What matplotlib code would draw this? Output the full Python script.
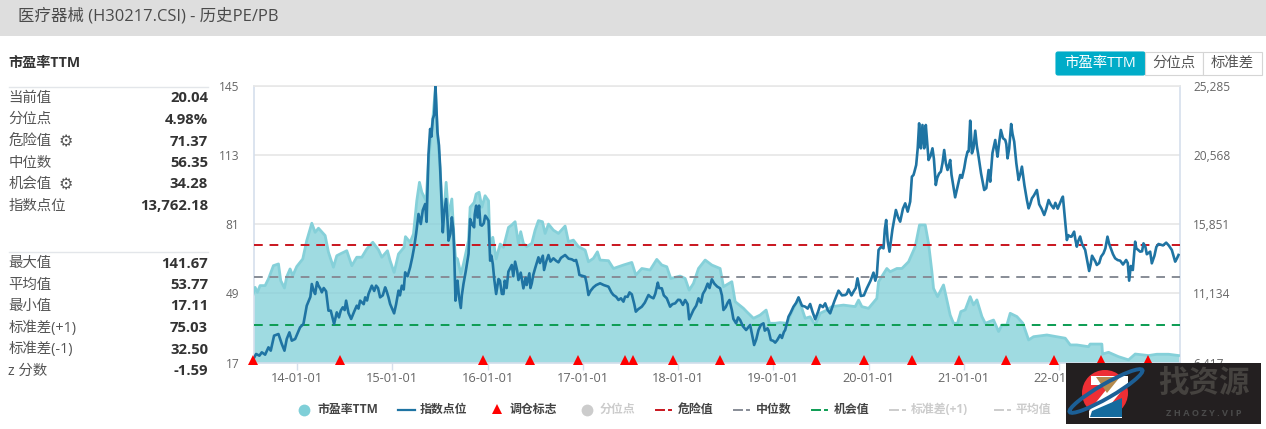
import matplotlib
matplotlib.use("Agg")
import matplotlib.pyplot as plt
from matplotlib.patches import Rectangle, Circle, Polygon, Ellipse, FancyBboxPatch
from matplotlib.transforms import offset_copy

plt.rcParams['font.family'] = ['Open Sans', 'Noto Sans CJK SC', 'DejaVu Sans']

# ---------- data ----------
pe_years = [2013.54,2013.56,2013.584,2013.612,2013.665,2013.70,2013.752,2013.805,2013.829,2013.868,2013.892,2013.927,2013.955,2013.997,
2014.06,2014.102,2014.155,2014.19,2014.225,2014.295,2014.33,2014.382,2014.417,2014.452,2014.522,2014.575,2014.627,2014.68,2014.732,2014.795,2014.855,2014.89,2014.949,2014.977,
2015.019,2015.065,2015.124,2015.138,2015.187,2015.222,2015.257,2015.285,2015.31,2015.355,2015.38,2015.425,2015.453,2015.474,2015.502,2015.52,2015.53,2015.565,2015.59,2015.625,2015.649,2015.663,2015.684,2015.72,2015.747,2015.80,2015.817,2015.859,2015.88,2015.911,2015.94,2015.974,
2016.01,2016.027,2016.055,2016.09,2016.132,2016.167,2016.22,2016.254,2016.289,2016.324,2016.348,2016.376,2016.411,2016.464,2016.499,2016.534,2016.576,2016.604,2016.639,2016.691,2016.744,2016.814,2016.849,2016.901,2016.954,
2017.024,2017.059,2017.111,2017.153,2017.181,2017.269,2017.321,2017.374,2017.426,2017.514,2017.556,2017.619,2017.706,2017.776,2017.829,2017.881,2017.923,
2018.021,2018.074,2018.116,2018.161,2018.214,2018.284,2018.354,2018.441,2018.476,2018.564,2018.599,2018.686,2018.721,2018.791,2018.861,2018.924,2018.959,
2019.019,2019.071,2019.141,2019.194,2019.264,2019.334,2019.386,2019.439,2019.491,2019.561,2019.614,2019.736,2019.859,2019.894,2019.929,2019.999,
2020.086,2020.104,2020.191,2020.226,2020.296,2020.349,2020.419,2020.489,2020.534,2020.594,2020.629,2020.664,2020.681,2020.723,2020.786,2020.821,2020.856,2020.891,2020.933,2020.968,
2021.014,2021.066,2021.101,2021.136,2021.189,2021.224,2021.311,2021.364,2021.399,2021.451,2021.486,2021.556,2021.619,2021.679,2021.731,2021.871,2021.976,
2022.064,2022.116,2022.185,2022.308,2022.325,2022.448,2022.455,2022.518,2022.622,2022.728,2022.798,2022.938,2023.025,2023.148,2023.253]
pe_values = [48.7,51.8,49.5,52.6,52.6,55.7,61.8,62.6,54.9,51.5,56.7,60.3,57.2,61.4,
64.9,73.4,81.4,77.2,79.1,75.7,68.0,61.1,66.4,67.2,68.7,61.8,65.7,65.7,69.5,72.6,69.1,65.7,68.7,64.1,
58.7,67.2,70.3,75.2,72.6,76.4,91.8,100.3,95.7,91.8,110.3,129.5,144.2,122.6,106.5,91.8,78.0,100.3,84.9,92.6,73.4,65.7,64.9,58.0,62.6,73.4,88.8,91.0,94.9,95.7,88.8,94.1,
91.8,70.3,74.9,64.9,71.8,70.3,79.5,80.6,82.1,72.1,77.5,72.1,70.6,72.1,78.2,82.6,82.1,76.7,81.0,78.2,76.7,80.1,72.9,73.6,70.6,
69.0,63.6,65.2,68.2,64.4,64.1,60.5,61.3,62.1,63.3,57.5,60.5,59.8,64.7,62.1,61.3,55.9,
57.0,55.9,50.5,53.6,60.5,64.4,62.1,60.5,52.1,54.4,45.2,42.1,40.5,37.5,39.0,41.3,35.2,
35.2,35.5,35.2,40.5,46.7,37.5,38.2,34.4,39.8,41.3,42.9,43.6,42.9,45.9,42.9,42.1,
46.7,54.4,60.5,59.0,60.5,60.5,63.6,70.6,80.6,80.6,72.1,59.0,51.3,47.5,52.9,45.9,39.0,35.2,35.2,40.6,
41.4,47.5,43.7,46.0,38.3,35.2,36.7,31.4,34.4,34.4,39.8,38.3,35.2,27.5,29.0,29.8,29.0,
28.3,25.2,25.2,24.4,25.6,25.6,21.0,21.8,19.8,18.3,21.0,20.3,20.9,20.9,20.3]

idx_years_a = [2013.542,2013.57,2013.605,2013.63,2013.665,2013.70,2013.724,2013.759,2013.805,2013.84,2013.868,2013.892,2013.92,2013.945,2013.98,
2014.032,2014.067,2014.102,2014.155,2014.19,2014.225,2014.26,2014.305,2014.33,2014.354,2014.389,2014.417,2014.459,2014.48,2014.515,2014.568,2014.627,2014.662,2014.715,2014.75,2014.785,2014.83,2014.872,2014.925,2014.96,2014.977,
2015.019,2015.065,2015.10,2015.135,2015.187,2015.229,2015.275,2015.299,2015.345,2015.38,2015.397,2015.425,2015.453,2015.474,2015.502,2015.53,2015.565,2015.59,2015.625,2015.649,2015.663,2015.684,2015.719,2015.747,2015.80,2015.817,2015.859,2015.88,2015.911,2015.94,2015.975,
2016.01,2016.027,2016.055,2016.09,2016.115,2016.167,2016.2185,2016.254,2016.289,2016.324,2016.348,2016.376,2016.411,2016.439,2016.464,2016.499,2016.534,2016.569,2016.593,2016.639,2016.691,2016.744,2016.814,2016.884,2016.929,2016.964,
2017.024,2017.059,2017.111,2017.181,2017.269,2017.321,2017.374,2017.426,2017.444,2017.514,2017.556,2017.619,2017.689,2017.741,2017.787,2017.829,2017.881,2017.916,2017.969,
2018.021,2018.074,2018.116,2018.161,2018.214,2018.284,2018.354,2018.441,2018.476,2018.539,2018.564,2018.609,2018.651,2018.714,2018.756,2018.798,2018.844,2018.896,2018.938,2018.973,
2019.019,2019.071,2019.124,2019.159,2019.211,2019.264,2019.334,2019.386,2019.439,2019.491,2019.544,2019.596,2019.684,2019.754,2019.789,2019.841,2019.883,2019.918,2019.981,
2020.051,2020.086,2020.104,2020.156,2020.184,2020.219,2020.286,2020.331,2020.384,2020.436,2020.454,2020.471,2020.499,2020.53,2020.548,2020.565,2020.583,2020.60,2020.629,2020.67,2020.705,2020.758,2020.793,2020.828,2020.856,2020.908,2020.961,
2021.003,2021.038,2021.066,2021.084,2021.119,2021.154,2021.213,2021.259,2021.276,2021.329,2021.353,2021.388,2021.434,2021.458,2021.496,2021.528,2021.574,2021.609,2021.661,2021.679,2021.714,2021.766,2021.843,2021.889,2021.941,
2022.029,2022.039,2022.081,2022.116,2022.157,2022.185,2022.22,2022.273,2022.3145,2022.36,2022.395,2022.44,2022.465,2022.507,2022.542,2022.5875,2022.64,2022.703,2022.7345,2022.752,2022.773,2022.7975,2022.85,2022.885,2022.955,2022.9725,
2023.0425,2023.123,2023.1825,2023.2175,2023.2525]
idx_values_a = [6669,7009,6896,7123,6964,7463,7236,8257,8370,7690,7236,8030,8484,7917,8030,
8824,9051,10299,11774,11093,11661,11207,11275,9959,9959,9051,9845,9959,10186,10640,9392,10299,10640,10866,11093,11661,11661,10866,11547,10866,10413,
9777,11320,11661,12568,12908,14270,16539,15858,17220,20623,22325,23006,25206,22098,19716,15291,17560,14724,16312,14043,10640,12001,10141,11774,13816,16199,15631,17106,17106,15745,16425,
16085,13362,13135,11093,12114,11093,12614,13067,13294,12046,12546,11479,11706,12500,11820,12841,13589,13521,12727,13748,13521,13249,13748,13453,13408,12387,
12273,11025,11547,11820,11593,11025,10685,10572,10912,11071,9891,10231,11025,10799,11865,11479,10799,10231,10458,
10685,10685,9369,10004,10799,11366,12092,11479,10004,10685,10004,9097,9324,8643,8983,7622,8643,9097,8756,7962,
7781,8303,8643,9551,10231,10866,10231,10413,9369,10345,10458,9777,11320,11025,11411,11252,12160,10957,11479,
12546,12387,14088,14202,16131,13975,16811,16017,17265,17379,19080,19194,19874,22710,21009,22597,21009,22597,20214,21009,18513,19420,20895,19534,20214,17673,19194,
19647,20782,22892,20668,22211,20441,18172,19534,18740,21576,20441,22257,21576,20328,22665,21462,18853,19761,17492,16924,17605,18172,16471,17492,16924,
17605,17719,14769,14996,15337,14316,15006,14089,12659,13522,13068,13635,13862,14996,14202,13522,13363,13408,12001,13000,12727,14656,13975,14543,13975,13181,
14497,14588,14089,13295,13749]

# additional readings of the jagged index line
idx_years_b = [2014.14,2014.175,2014.21,2014.245,2014.28,2014.44,2014.50,2014.54,2014.60,2014.645,2014.70,2014.735,2014.81,2014.85,2014.90,2014.94,
2015.04,2015.08,2015.12,2015.16,2015.21,2015.25,2015.32,2015.36,2015.41,2015.44,2015.49,2015.51,2015.545,2015.58,2015.61,2015.64,2015.67,2015.70,2015.73,2015.77,2015.84,2015.865,2015.895,2015.925,2015.96,2015.99,
2016.04,2016.07,2016.13,2016.15,2016.18,2016.20,2016.27,2016.31,2016.40,2016.45,2016.48,2016.55,2016.58,2016.615,2016.66,2016.72,2016.77,2016.85,2016.91,2016.95,
2017.04,2017.08,2017.14,2017.22,2017.30,2017.35,2017.40,2017.47,2017.49,2017.54,2017.58,2017.65,2017.71,2017.76,2017.80,2017.85,2017.94,
2018.00,2018.05,2018.10,2018.14,2018.19,2018.24,2018.26,2018.31,2018.33,2018.38,2018.41,2018.46,2018.50,2018.52,2018.58,2018.63,2018.68,2018.78,2018.82,2018.87,2018.91,2018.95,
2019.00,2019.04,2019.09,2019.11,2019.18,2019.24,2019.30,2019.36,2019.41,2019.47,2019.52,2019.57,2019.64,2019.72,2019.77,2019.82,2019.865,2019.90,2019.95,
2020.02,2020.07,2020.13,2020.17,2020.20,2020.25,2020.31,2020.36,2020.41,2020.48,2020.515,2020.54,2020.575,2020.59,2020.61,2020.65,2020.685,2020.72,2020.74,2020.775,2020.81,2020.84,2020.87,2020.89,2020.93,2020.98,
2021.02,2021.05,2021.075,2021.10,2021.135,2021.18,2021.235,2021.30,2021.34,2021.37,2021.41,2021.445,2021.475,2021.51,2021.55,2021.59,2021.635,2021.695,2021.735,2021.79,2021.815,2021.865,2021.91,2021.96,2021.985,
2022.01,2022.095,2022.13,2022.17,2022.20,2022.24,2022.29,2022.33,2022.345,2022.38,2022.42,2022.485,2022.525,2022.565,2022.615,2022.67,2022.72,2022.81,2022.87,2022.905,2022.92,
2023.0,2023.02,2023.09,2023.15,2023.20,2023.235]
idx_values_b = [10900,11300,11900,11450,11500,9500,10000,9800,9900,10100,10400,10650,11300,11500,11000,11300,
10400,11000,11400,12300,13600,15200,16800,16000,21800,23300,21200,18500,16700,16000,15200,15500,11200,10900,11000,12600,15800,16500,16300,15800,15900,16300,
13700,12100,12000,11100,12000,11500,12300,12700,12200,11500,12400,13200,13700,13300,13300,13350,13550,13500,13350,12900,
11800,11300,11700,11700,11200,10900,10800,10900,11200,10400,10050,10500,10900,11100,11500,11000,10400,
10700,10350,10400,9700,10300,10500,11100,11800,11500,11800,11600,11000,10200,10500,9400,9500,8900,8200,8000,9000,8600,8600,
7900,7950,8100,8500,9800,10500,10300,10100,9900,9900,10200,10000,10600,11000,11100,11000,11500,11600,11000,
12000,12000,14300,15500,14700,15500,16300,16900,16700,19400,21000,21600,21700,21300,21800,20500,20300,19000,19300,20000,20000,19800,19200,18400,18300,19000,
20300,20800,21900,21000,21200,19300,18300,20700,21000,21400,21700,21300,21000,22000,20000,19200,18500,17200,17800,17200,16900,16900,17200,17300,16900,
17300,15100,15000,14800,14700,14500,13500,13100,13700,13300,13200,14200,14500,13800,13400,13100,13200,14200,14000,14300,13800,
13700,14300,14400,14400,13700,13500]

rebalance_years = [2013.54,2014.45,2015.95,2016.45,2016.95,2017.44,2017.53,2017.95,2018.44,2018.97,2019.45,2019.95,2020.45,2020.95,2021.44,2021.95,2022.44,2022.93]

danger_value = 71.37
median_value = 56.35
chance_value = 34.28

pe_ticks = [17, 49, 81, 113, 145]
idx_ticks = [6417, 11134, 15851, 20568, 25285]
year_ticks = [2014, 2015, 2016, 2017, 2018, 2019, 2020, 2021, 2022]
year_labels = ['14-01-01','15-01-01','16-01-01','17-01-01','18-01-01','19-01-01','20-01-01','21-01-01','22-01-01']

panel_top = [('当前值','20.04'),('分位点','4.98%'),('危险值','71.37'),('中位数','56.35'),('机会值','34.28'),('指数点位','13,762.18')]
panel_bottom = [('最大值','141.67'),('平均值','53.77'),('最小值','17.11'),('标准差(+1)','75.03'),('标准差(-1)','32.50'),('z 分数','-1.59')]

idx_pairs = sorted(zip(idx_years_a + idx_years_b, idx_values_a + idx_values_b))
idx_years = [p[0] for p in idx_pairs]
idx_values = [p[1] for p in idx_pairs]

# ---------- figure ----------
W, H = 1266, 429
fig = plt.figure(figsize=(W/100, H/100), dpi=100, facecolor='white')
L, R, T, B = 253.5, 1179.5, 85.5, 362.7
ax = fig.add_axes([L/W, 1-B/H, (R-L)/W, (B-T)/H])
ax.set_xlim(2013.543, 2023.263)
ax.set_ylim(17, 145)
ax.set_facecolor('white')
ax.grid(axis='y', color='#E8E8E8', lw=1.3, zorder=0)
ax.set_axisbelow(True)

ax.fill_between(pe_years, pe_values, 17, color='#7FCFD8', alpha=0.75, lw=0, zorder=2)
ax.plot(pe_years, pe_values, color='#85D0D9', lw=2.0, zorder=3)

ds = (0, (4.5, 3.5))
ax.axhline(danger_value, color='#C9151E', lw=1.4, ls=ds, zorder=4)
ax.axhline(median_value, color='#878C96', lw=1.4, ls=ds, zorder=4)
ax.axhline(chance_value, color='#0B9C52', lw=1.4, ls=ds, zorder=4)

ax.set_yticks(pe_ticks)
ax.set_yticklabels([str(v) for v in pe_ticks], color='#666666', fontsize=8.6)
ax.tick_params(axis='y', length=0, pad=10)
ax.set_xticks(year_ticks)
ax.set_xticklabels(year_labels, color='#666666', fontsize=9.2)
ax.tick_params(axis='x', length=5, color='#D5DFEC', width=1, pad=2)
for s, c in (('left','#D5DFEC'),('right','#D5DFEC'),('bottom','#D5DFEC'),('top','#E8E8E8')):
    ax.spines[s].set_color(c)
    ax.spines[s].set_linewidth(1.2)

ax2 = ax.twinx()
ax2.set_ylim(6417, 25285)
ax2.plot(idx_years, idx_values, color='#1F74A3', lw=1.9, zorder=5)
ax2.set_yticks(idx_ticks)
ax2.set_yticklabels([f'{v:,}' for v in idx_ticks], color='#666666', fontsize=8.6)
ax2.tick_params(axis='y', length=0, pad=10)
for s in ax2.spines.values():
    s.set_visible(False)
tr = offset_copy(ax2.transData, fig=fig, x=0, y=1.6, units='points')
ax2.plot(rebalance_years, [6417]*len(rebalance_years), ls='none', marker='^', ms=7.2,
         color='#FF0000', mew=0, clip_on=False, transform=tr, zorder=6)

# ---------- page furniture, in pixel coordinates ----------
ov = fig.add_axes([0, 0, 1, 1], zorder=10)
ov.set_xlim(0, W); ov.set_ylim(H, 0); ov.axis('off'); ov.patch.set_alpha(0)

ov.add_patch(Rectangle((0, 0), W, 36, color='#DEDEDE', lw=0))
ov.text(18, 16.5, '医疗器械 (H30217.CSI) - 历史PE/PB', fontsize=11.85, color='#4A4A4A', va='center', ha='left')
ov.text(8.5, 63, '市盈率TTM', fontsize=10.2, color='#333333', fontweight='bold', va='center')

ov.plot([9, 208], [86.5, 86.5], color='#E3E6EA', lw=1)
ov.plot([9, 208], [251.5, 251.5], color='#E3E6EA', lw=1)
for (lab, val), y in zip(panel_top, [98, 119.5, 141.5, 163, 184.5, 206]):
    ov.text(8.5, y, lab, fontsize=10.4, color='#555555', va='center')
    ov.text(208, y, val, fontsize=10.7, color='#333333', fontweight='bold', va='center', ha='right')
for (lab, val), y in zip(panel_bottom, [263.5, 285, 306.5, 328, 349.5, 371]):
    ov.text(8.5, y, lab, fontsize=10.4, color='#555555', va='center')
    ov.text(208, y, val, fontsize=10.7, color='#333333', fontweight='bold', va='center', ha='right')
for y in (141.5, 184.5):
    ov.text(65.5, y, '⚙', fontsize=11.5, color='#555555', va='center', ha='center', family='DejaVu Sans')

# buttons
ov.add_patch(FancyBboxPatch((1056, 52), 89, 23, boxstyle='round,pad=0,rounding_size=2', fc='#00ACC8', ec='#00ACC8', lw=0.8))
ov.add_patch(Rectangle((1145, 52), 57.5, 23, fc='white', ec='#D5D5D5', lw=0.8))
ov.add_patch(Rectangle((1202.5, 52), 59.5, 23, fc='white', ec='#D5D5D5', lw=0.8))
ov.text(1100.5, 63.5, '市盈率TTM', fontsize=10.4, color='white', ha='center', va='center')
ov.text(1173.7, 63.5, '分位点', fontsize=10.4, color='#555555', ha='center', va='center')
ov.text(1232.2, 63.5, '标准差', fontsize=10.4, color='#555555', ha='center', va='center')

# legend
ly = 409.5
ltxt = dict(fontsize=8.6, va='center', fontweight='bold')
on, off = '#444444', '#CCCCCC'
ov.plot([303.5], [ly], 'o', ms=8.5, color='#7FCFD8', mew=0)
ov.text(317, ly, '市盈率TTM', color=on, **ltxt)
ov.plot([398, 415], [ly, ly], color='#1F74A3', lw=1.6)
ov.text(420, ly, '指数点位', color=on, **ltxt)
ov.plot([497], [ly-1], '^', ms=7.2, color='#FF0000', mew=0)
ov.text(510, ly, '调仓标志', color=on, **ltxt)
ov.plot([587], [ly], 'o', ms=8.5, color=off, mew=0)
ov.text(600, ly, '分位点', color=off, **ltxt)
def dash_key(x, c):
    ov.plot([x, x+8], [ly, ly], color=c, lw=1.4)
    ov.plot([x+13, x+14.5], [ly, ly], color=c, lw=1.4)
dash_key(656, '#C9151E'); ov.text(678, ly, '危险值', color=on, **ltxt)
dash_key(734, '#878C96'); ov.text(756, ly, '中位数', color=on, **ltxt)
dash_key(812, '#0B9C52'); ov.text(834, ly, '机会值', color=on, **ltxt)
dash_key(890, off); ov.text(911, ly, '标准差(+1)', color=off, **ltxt)
dash_key(995, off); ov.text(1016, ly, '平均值', color=off, **ltxt)

# watermark
ov.add_patch(Rectangle((1066, 363), 195, 61, color='#231F20', lw=0, zorder=20))
ov.add_patch(Circle((1105, 393), 23, color='#EE2F35', lw=0, zorder=21))
ov.add_patch(Polygon([(1091,376),(1128,376),(1128,383),(1107,409),(1122,409),(1122,418),(1089,418),(1089,411),(1110,385),(1091,385)],
                     fc='white', ec='none', zorder=23))
ov.add_patch(Polygon([(1096,377),(1120,377),(1107,393)], fc='#B58A4E', ec='none', zorder=24))
ov.add_patch(Ellipse((1106, 391), 84, 14, angle=-30, fc='none', ec='#1C5F96', lw=2.8, zorder=25))
ov.add_patch(Polygon([(1092,411),(1122,398),(1122,417),(1090,417)], fc='#156B9E', ec='none', zorder=24))
ov.text(1204, 385, '找资源', fontsize=22, color='#45423F', ha='center', va='center', zorder=26, fontweight='bold')
ov.text(1203.5, 413, 'Z H A O Z Y . V I P', fontsize=6.6, color='#4A4A4A', ha='center', va='center', zorder=26, fontweight='bold')

fig.savefig('out.png', dpi=100)
